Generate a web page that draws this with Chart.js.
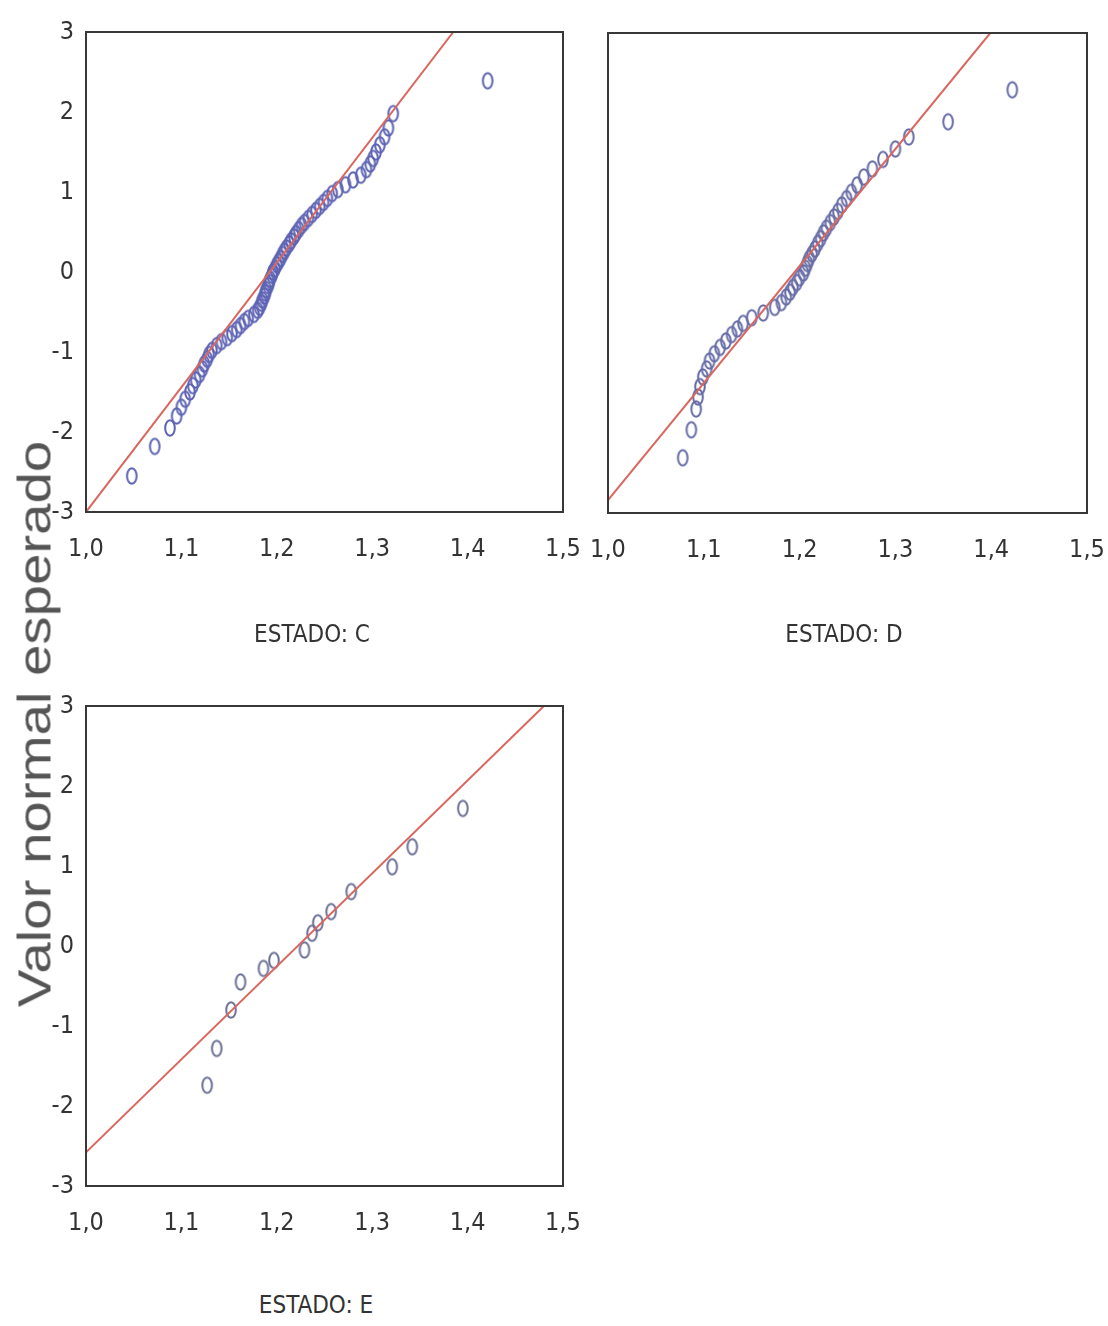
<!DOCTYPE html>
<html lang="es">
<head>
<meta charset="utf-8">
<script src="https://cdn.jsdelivr.net/npm/chart.js@4.4.1/dist/chart.umd.min.js"></script>
<style>
  html, body { margin: 0; padding: 0; background: #fff; }
  #page { position: relative; width: 1108px; height: 1326px; overflow: hidden; }
  #page canvas { position: absolute; }
  .estado {
    position: absolute; line-height: 1; white-space: nowrap;
    font-family: 'Liberation Sans Narrow', 'DejaVu Sans Condensed', sans-serif;
    font-size: 24px; color: #333; transform: translateX(-50%);
  }
  #ylab {
    position: absolute; left: 34px; top: 724px; line-height: 1; white-space: nowrap;
    transform: translate(-50%, -50%) rotate(-90deg) scaleX(1.2);
    font-family: 'Liberation Sans', Arial, sans-serif; font-size: 47px; color: #555;
  }
</style>
</head>
<body>
<div id="page">
  <canvas id="chartC" width="580" height="660" style="left:0;top:0"></canvas>
  <canvas id="chartD" width="528" height="660" style="left:580px;top:0"></canvas>
  <canvas id="chartE" width="580" height="600" style="left:0;top:674px"></canvas>
  <div class="estado" style="left:312px;top:622px">ESTADO: C</div>
  <div class="estado" style="left:844px;top:622px">ESTADO: D</div>
  <div class="estado" style="left:316px;top:1293px">ESTADO: E</div>
  <div id="ylab">Valor normal esperado</div>
</div>
<script>
// ESTADO: C  (valor observado vs valor normal esperado)
const obsC = [1.048, 1.072, 1.088, 1.095, 1.100, 1.104, 1.109, 1.112, 1.115, 1.119,
              1.122, 1.124, 1.127, 1.129, 1.132, 1.137, 1.142, 1.148, 1.153, 1.158,
              1.162, 1.166, 1.170, 1.176, 1.180, 1.182, 1.184, 1.185, 1.187, 1.188,
              1.189, 1.191, 1.192, 1.193, 1.195, 1.196, 1.198, 1.200, 1.202, 1.204,
              1.206, 1.208, 1.210, 1.213, 1.215, 1.218, 1.220, 1.223, 1.226, 1.229,
              1.233, 1.237, 1.241, 1.245, 1.249, 1.253, 1.258, 1.264, 1.272, 1.280,
              1.288, 1.294, 1.298, 1.301, 1.304, 1.308, 1.313, 1.317, 1.322, 1.421];
const espC = [-2.55, -2.18, -1.95, -1.80, -1.69, -1.59, -1.50, -1.42, -1.35, -1.28,
              -1.21, -1.15, -1.09, -1.03, -0.98, -0.92, -0.87, -0.82, -0.77, -0.72,
              -0.67, -0.62, -0.58, -0.53, -0.48, -0.44, -0.39, -0.35, -0.30, -0.26,
              -0.22, -0.17, -0.13, -0.09, -0.04, 0.00, 0.04, 0.09, 0.13, 0.17,
              0.22, 0.26, 0.30, 0.35, 0.39, 0.44, 0.48, 0.53, 0.58, 0.62,
              0.67, 0.72, 0.77, 0.82, 0.87, 0.92, 0.98, 1.03, 1.09, 1.15,
              1.21, 1.28, 1.35, 1.42, 1.50, 1.59, 1.69, 1.80, 1.98, 2.39];
const rectaC_x = [1.0, 1.385];
const rectaC_y = [-3.0, 3.0];

// ESTADO: D
const obsD = [1.078, 1.087, 1.092, 1.094, 1.096, 1.099, 1.103, 1.106, 1.111, 1.117,
              1.123, 1.129, 1.135, 1.141, 1.150, 1.162, 1.174, 1.181, 1.186, 1.190,
              1.193, 1.197, 1.200, 1.204, 1.206, 1.208, 1.210, 1.213, 1.216, 1.219,
              1.222, 1.225, 1.228, 1.232, 1.236, 1.240, 1.244, 1.249, 1.254, 1.260,
              1.267, 1.276, 1.287, 1.300, 1.314, 1.355, 1.422];
const espD = [-2.31, -1.96, -1.70, -1.55, -1.42, -1.30, -1.20, -1.10, -1.01, -0.93,
              -0.85, -0.77, -0.70, -0.63, -0.56, -0.50, -0.43, -0.37, -0.30, -0.24,
              -0.18, -0.12, -0.06, 0.00, 0.06, 0.12, 0.18, 0.24, 0.30, 0.37,
              0.43, 0.50, 0.56, 0.63, 0.70, 0.77, 0.85, 0.93, 1.01, 1.10,
              1.20, 1.30, 1.42, 1.55, 1.70, 1.89, 2.29];
const rectaD_x = [1.0, 1.399];
const rectaD_y = [-2.84, 3.0];

// ESTADO: E
const obsE = [1.127, 1.137, 1.152, 1.162, 1.186, 1.197, 1.229, 1.237, 1.243, 1.257,
              1.278, 1.321, 1.342, 1.395];
const espE = [-1.74, -1.28, -0.80, -0.45, -0.28, -0.18, -0.05, 0.16, 0.29, 0.43,
              0.68, 0.99, 1.24, 1.72];
const rectaE_x = [1.0, 1.48];
const rectaE_y = [-2.58, 3.0];

const ejeX = [1.0, 1.5];
const ejeY = [-3, 3];

const tickFont = { family: "'Liberation Sans Narrow', 'DejaVu Sans Condensed', sans-serif", size: 25 };

// hollow "0" shaped marker
function anillo(color) {
    const c = document.createElement('canvas');
    c.width = 16; c.height = 22;
    const g = c.getContext('2d');
    g.strokeStyle = color;
    g.lineWidth = 2;
    g.beginPath();
    g.ellipse(8, 11, 4.8, 7.8, 0, 0, Math.PI * 2);
    g.stroke();
    return c;
}

const marco = {
    id: 'marco',
    afterDraw(chart) {
        const a = chart.chartArea, ctx = chart.ctx;
        ctx.save();
        ctx.strokeStyle = '#383838';
        ctx.lineWidth = 2;
        ctx.strokeRect(a.left, a.top, a.right - a.left, a.bottom - a.top);
        ctx.restore();
    }
};

function zip(xs, ys) {
    return xs.map((x, i) => ({ x: x, y: ys[i] }));
}

function crearPanel(id, obs, esp, rx, ry, opts) {
    new Chart(document.getElementById(id), {
        type: 'scatter',
        data: {
            datasets: [{
                type: 'line',
                data: zip(rx, ry),
                borderColor: '#d9675f',
                borderWidth: 2,
                pointRadius: 0,
                fill: false
            }, {
                data: zip(obs, esp),
                pointStyle: anillo(opts.color),
                pointRadius: 8
            }]
        },
        options: {
            responsive: false,
            animation: false,
            layout: { padding: opts.padding },
            plugins: { legend: { display: false }, tooltip: { enabled: false } },
            scales: {
                x: {
                    type: 'linear',
                    min: ejeX[0], max: ejeX[1],
                    grid: { display: false },
                    border: { display: false },
                    ticks: {
                        stepSize: 0.1,
                        padding: 14,
                        color: '#333',
                        font: tickFont,
                        maxRotation: 0,
                        callback: v => v.toFixed(1).replace('.', ',')
                    },
                    afterFit: s => { s.height = opts.xh; s.paddingLeft = 0; s.paddingRight = 0; }
                },
                y: {
                    min: ejeY[0], max: ejeY[1],
                    grid: { display: false },
                    border: { display: false },
                    ticks: {
                        display: opts.yLabels,
                        stepSize: 1,
                        padding: 4,
                        color: '#333',
                        font: tickFont
                    },
                    afterFit: s => { s.width = opts.yw; s.paddingTop = 0; s.paddingBottom = 0; }
                }
            }
        },
        plugins: [marco]
    });
}

crearPanel('chartC', obsC, espC, rectaC_x, rectaC_y,
    { color: '#5d63b4', padding: { top: 32, right: 17, bottom: 0, left: 0 }, xh: 148, yw: 86, yLabels: true });
crearPanel('chartD', obsD, espD, rectaD_x, rectaD_y,
    { color: '#666ca6', padding: { top: 33, right: 21, bottom: 0, left: 0 }, xh: 147, yw: 28, yLabels: false });
crearPanel('chartE', obsE, espE, rectaE_x, rectaE_y,
    { color: '#6c7196', padding: { top: 32, right: 17, bottom: 0, left: 0 }, xh: 88, yw: 86, yLabels: true });
</script>
</body>
</html>
